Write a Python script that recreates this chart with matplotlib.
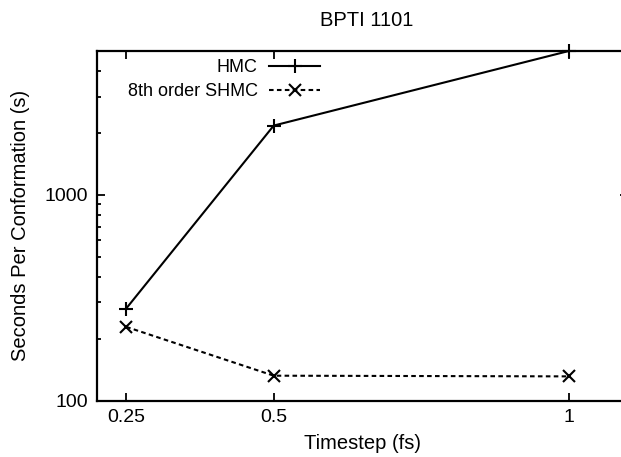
import numpy as np
import matplotlib
matplotlib.use('Agg')
import matplotlib.pyplot as plt
from matplotlib.ticker import FixedLocator, FixedFormatter, LogLocator, NullFormatter

plt.rcParams['font.family'] = ['Liberation Sans', 'DejaVu Sans']

timestep = [0.25, 0.5, 1.0]
hmc = [280, 2170, 5000]
shmc = [228, 132, 131]
xticks = [0.25, 0.5, 1.0]
xlabels = ['0.25', '0.5', '1']

fig = plt.figure(figsize=(6.21, 4.57), dpi=100)
ax = fig.add_axes([96.7 / 621, 1 - 400.5 / 457, (627.8 - 96.7) / 621, (400.5 - 51) / 457])

ax.plot(timestep, hmc, color='black', lw=1.5, marker='+', ms=10, mew=1.5,
        label='HMC', clip_on=False)
ax.plot(timestep, shmc, color='black', lw=1.5, ls=(0, (2.2, 1.6)), marker='x', ms=9,
        mew=1.5, label='8th order SHMC')

ax.set_yscale('log')
ax.set_xlim(0.2, 1.1)
ax.set_ylim(100, 5000)

ax.xaxis.set_major_locator(FixedLocator(xticks))
ax.xaxis.set_major_formatter(FixedFormatter(xlabels))
ax.yaxis.set_major_locator(FixedLocator([100, 1000]))
ax.yaxis.set_major_formatter(FixedFormatter(['100', '1000']))
ax.yaxis.set_minor_locator(LogLocator(base=10, subs=np.arange(2, 10)))
ax.yaxis.set_minor_formatter(NullFormatter())

ax.tick_params(which='both', direction='in', top=True, right=True, labelsize=14,
               width=1.3, pad=6)
ax.tick_params(which='major', length=6)
ax.tick_params(which='minor', length=3)
for s in ax.spines.values():
    s.set_linewidth(1.6)

ax.set_xlabel('Timestep (fs)', fontsize=14.5, labelpad=6)
ax.set_ylabel('Seconds Per Conformation (s)', fontsize=14.5)
ax.yaxis.set_label_coords(-0.125, 0.5)
fig.text(367 / 621, 1 - 20 / 457, 'BPTI 1101', fontsize=14.5, ha='center', va='center')

ax.legend(loc='upper right', bbox_to_anchor=(320 / 621, 1 - 59 / 457),
          bbox_transform=fig.transFigure, frameon=False, markerfirst=False,
          fontsize=13, handlelength=2.8, handletextpad=0.65, borderpad=0,
          borderaxespad=0, labelspacing=0.4)

fig.savefig('out.png', dpi=100)
